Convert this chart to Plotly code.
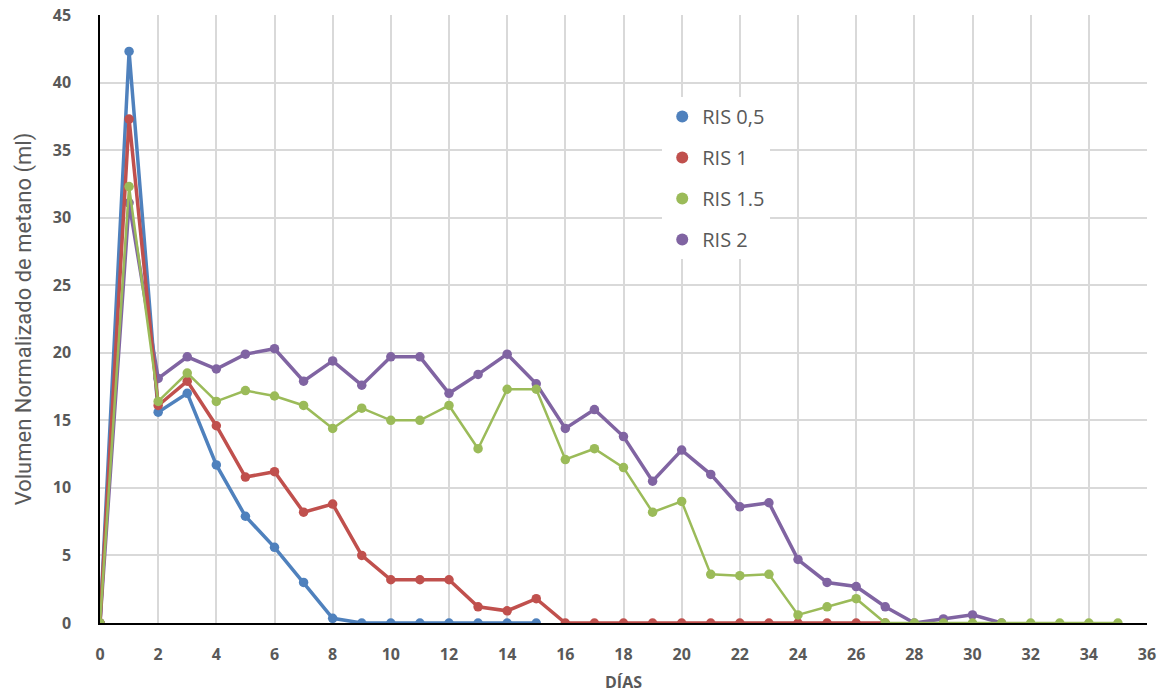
import plotly.graph_objects as go

# Methane production per day for each RIS dosage
dias = list(range(0, 36))

ris_05 = [0, 42.3, 15.6, 17.0, 11.7, 7.9, 5.6, 3.0, 0.35, 0, 0, 0, 0, 0, 0, 0]
ris_1 = [0, 37.3, 16.1, 17.9, 14.6, 10.8, 11.2, 8.2, 8.8, 5.0, 3.2, 3.2, 3.2, 1.2, 0.9, 1.8,
         0, 0, 0, 0, 0, 0, 0, 0, 0, 0, 0, 0]
ris_15 = [0, 32.3, 16.4, 18.5, 16.4, 17.2, 16.8, 16.1, 14.4, 15.9, 15.0, 15.0, 16.1, 12.9, 17.3, 17.3,
          12.1, 12.9, 11.5, 8.2, 9.0, 3.6, 3.5, 3.6, 0.6, 1.2, 1.8, 0, 0, 0, 0, 0, 0, 0, 0, 0]
ris_2 = [0, 31.1, 18.1, 19.7, 18.8, 19.9, 20.3, 17.9, 19.4, 17.6, 19.7, 19.7, 17.0, 18.4, 19.9, 17.7,
         14.4, 15.8, 13.8, 10.5, 12.8, 11.0, 8.6, 8.9, 4.7, 3.0, 2.7, 1.2, 0, 0.3, 0.6, 0]

series_names = ["RIS 0,5", "RIS 1", "RIS 1.5", "RIS 2"]
colors = {"RIS 0,5": "#4F81BD", "RIS 1": "#C0504D", "RIS 1.5": "#9BBB59", "RIS 2": "#8064A2"}
widths = {"RIS 0,5": 3.5, "RIS 1": 3.5, "RIS 1.5": 2.5, "RIS 2": 3.5}
values = {"RIS 0,5": ris_05, "RIS 1": ris_1, "RIS 1.5": ris_15, "RIS 2": ris_2}

fig = go.Figure()

# Drawing order: purple underneath, green on top
for name in ["RIS 2", "RIS 0,5", "RIS 1", "RIS 1.5"]:
    ys = values[name]
    fig.add_trace(go.Scatter(
        x=dias[:len(ys)], y=ys, mode="lines+markers", name=name,
        line=dict(color=colors[name], width=widths[name]),
        marker=dict(color=colors[name], size=9.5),
        showlegend=False,
    ))

# Legend entries shown as dots only, each in its own group for wider spacing
for i, name in enumerate(series_names):
    fig.add_trace(go.Scatter(
        x=[None], y=[None], mode="markers", name=name,
        marker=dict(color=colors[name], size=7),
        legendrank=i + 1, legendgroup=name,
    ))

font_ticks = dict(family="Open Sans, DejaVu Sans, sans-serif", size=16, color="#595959", weight="bold")

fig.update_layout(
    width=1170, height=693,
    margin=dict(l=100, r=23, t=15, b=70),
    paper_bgcolor="white", plot_bgcolor="white",
    legend=dict(
        x=0.537, y=0.865, xanchor="left", yanchor="top",
        bgcolor="white", borderwidth=0,
        font=dict(family="Open Sans, DejaVu Sans, sans-serif", size=20, color="#595959"),
        tracegroupgap=12, itemsizing="constant",
        traceorder="grouped",
    ),
    xaxis=dict(
        range=[0, 36], dtick=2, tick0=0, automargin=False,
        showgrid=True, gridcolor="#D9D9D9", gridwidth=1.5,
        showline=True, linecolor="black", linewidth=1.5,
        zeroline=False, ticks="", tickfont=font_ticks,
        ticklabelstandoff=16,
        title=dict(text="DÍAS", font=dict(family="Open Sans, DejaVu Sans, sans-serif",
                                          size=16, color="#595959", weight="bold")),
    ),
    yaxis=dict(
        range=[0, 45], dtick=5, tick0=0, automargin=False,
        showgrid=True, gridcolor="#D9D9D9", gridwidth=1.5,
        showline=True, linecolor="black", linewidth=1.5,
        zeroline=False, ticks="", tickfont=font_ticks,
        ticklabelstandoff=24,
        title=dict(text="Volumen Normalizado de metano (ml)",
                   font=dict(family="Liberation Sans Narrow, Roboto, sans-serif", size=22, color="#595959")),
    ),
)

fig.write_html("out.html")
